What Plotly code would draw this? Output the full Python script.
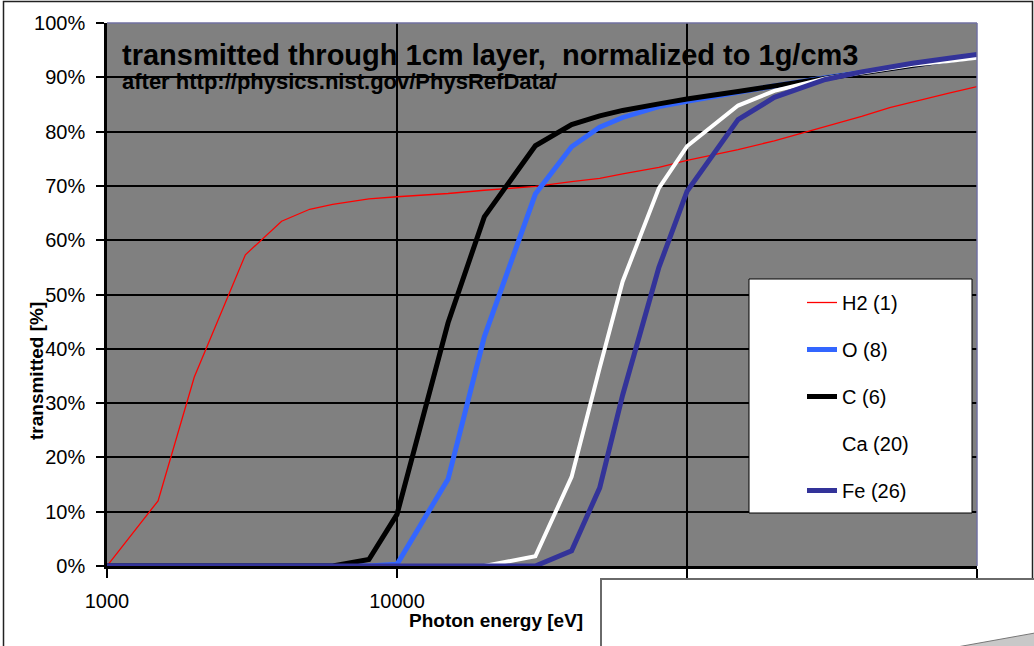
import plotly.graph_objects as go

# ---- data ----
energy_eV = [1000, 1500, 2000, 3000, 4000, 5000, 6000, 8000, 10000, 15000, 20000,
             30000, 40000, 50000, 60000, 80000, 100000, 150000, 200000, 300000,
             400000, 500000, 600000, 800000, 1000000]

h2_pct = [0.0, 12.0, 34.8, 57.3, 63.5, 65.7, 66.6, 67.6, 68.0, 68.6, 69.2,
          69.9, 70.8, 71.4, 72.2, 73.4, 74.7, 76.7, 78.3, 80.9,
          82.8, 84.4, 85.5, 87.1, 88.3]
o_pct = [0, 0, 0, 0, 0, 0, 0, 0, 0.3, 16.0, 42.2,
         68.5, 77.2, 80.8, 82.6, 84.6, 85.6, 87.3, 88.4, 89.9,
         90.9, 91.6, 92.2, 93.2, 93.8]
c_pct = [0, 0, 0, 0, 0, 0, 0, 1.2, 9.5, 44.8, 64.3,
         77.4, 81.3, 82.9, 83.9, 85.1, 86.0, 87.4, 88.4, 89.9,
         90.9, 91.7, 92.3, 93.2, 93.8]
ca_pct = [0, 0, 0, 0, 0, 0, 0, 0, 0, 0, 0,
          1.8, 16.4, 36.5, 52.4, 69.6, 77.3, 84.8, 87.5, 89.8,
          90.9, 91.7, 92.3, 93.0, 93.6]
fe_pct = [0, 0, 0, 0, 0, 0, 0, 0, 0, 0, 0,
          0, 2.8, 14.4, 31.5, 55.0, 69.0, 82.2, 86.3, 89.6,
          91.0, 91.9, 92.6, 93.5, 94.2]

series_names = ["H2 (1)", "O (8)", "C (6)", "Ca (20)", "Fe (26)"]
x_tick_vals = [1000, 10000, 100000, 1000000]
x_tick_text = ["1000", "10000", "100000", "1000000"]
y_tick_vals = [0, 10, 20, 30, 40, 50, 60, 70, 80, 90, 100]
y_tick_text = ["0%", "10%", "20%", "30%", "40%", "50%", "60%", "70%", "80%", "90%", "100%"]

title_text = "transmitted through 1cm layer,  normalized to 1g/cm3"
subtitle_text = "after http://physics.nist.gov/PhysRefData/"
x_title = "Photon energy [eV]"
y_title = "transmitted [%]"

FONT = "Liberation Sans, Arial, sans-serif"

# ---- styles ----
styles = [
    dict(color="#FF0000", width=1.3),
    dict(color="#3366FF", width=5),
    dict(color="#000000", width=5),
    dict(color="#FFFFFF", width=4),
    dict(color="#333399", width=5),
]
values = [h2_pct, o_pct, c_pct, ca_pct, fe_pct]

fig = go.Figure()
for i, (name, vals, st) in enumerate(zip(series_names, values, styles)):
    fig.add_trace(go.Scatter(
        x=energy_eV, y=vals, name=name, mode="lines",
        line=dict(color=st["color"], width=st["width"]),
        legendgroup=f"g{i}",
    ))

W, H = 1034, 646
L, R, T, B = 107, 977, 23, 566


def px(xp):
    return (xp - L) / (R - L)


def py(yp):
    return (B - yp) / (B - T)


fig.update_layout(
    width=W, height=H,
    margin=dict(l=L, r=W - R, t=T, b=H - B, pad=0),
    paper_bgcolor="white",
    plot_bgcolor="#808080",
    font=dict(family=FONT, size=20, color="black"),
    showlegend=True,
    legend=dict(
        x=px(802), y=py(283), xanchor="left", yanchor="top",
        bgcolor="rgba(0,0,0,0)", borderwidth=0,
        font=dict(family=FONT, size=20, color="black"),
        traceorder="grouped", tracegroupgap=18,
    ),
    xaxis=dict(
        type="log", range=[3, 6],
        tickvals=x_tick_vals, ticktext=x_tick_text,
        showgrid=True, gridcolor="black", gridwidth=1.5,
        ticks="outside", ticklen=9, tickwidth=1.5, tickcolor="black",
        showline=True, linecolor="black", linewidth=2.5,
        tickfont=dict(family=FONT, size=20, color="black"),
        ticklabelstandoff=6,
        layer="below traces", zeroline=False,
    ),
    yaxis=dict(
        range=[0, 100],
        tickvals=y_tick_vals, ticktext=y_tick_text,
        showgrid=True, gridcolor="black", gridwidth=1.5,
        ticks="outside", ticklen=8, tickwidth=1.5, tickcolor="black",
        showline=True, linecolor="black", linewidth=2.5,
        tickfont=dict(family=FONT, size=20, color="black"),
        ticklabelstandoff=7,
        layer="below traces", zeroline=False,
    ),
)

shapes = [
    # top & right border of plot area
    dict(type="line", xref="paper", yref="paper", x0=0, x1=1, y0=1, y1=1,
         line=dict(color="#7070A0", width=1.5), layer="above"),
    dict(type="line", xref="paper", yref="paper", x0=1, x1=1, y0=0, y1=1,
         line=dict(color="#7070A0", width=1.5), layer="above"),
    # outer frame of the whole picture
    dict(type="rect", xref="paper", yref="paper",
         x0=px(3.5), x1=px(1032.5), y0=py(700), y1=py(1.5),
         line=dict(color="#222222", width=1.5), fillcolor="rgba(0,0,0,0)", layer="above"),
    # legend box
    dict(type="rect", xref="paper", yref="paper",
         x0=px(749), x1=px(972), y0=py(513), y1=py(279),
         line=dict(color="black", width=1), fillcolor="white", layer="above"),
    # overlapping white box at the bottom right
    dict(type="rect", xref="paper", yref="paper",
         x0=px(601), x1=px(1100), y0=py(720), y1=py(579),
         line=dict(color="#6a6a6a", width=2), fillcolor="white", layer="above"),
    # grey wedge in the overlapping box
    dict(type="path", xref="paper", yref="paper",
         path=f"M {px(957)} {py(647)} L {px(1035)} {py(633)} L {px(1035)} {py(647)} Z",
         line=dict(color="#777777", width=1), fillcolor="#C8C8C8", layer="above"),
]
fig.update_layout(shapes=shapes)

annotations = [
    dict(text=title_text, xref="paper", yref="paper", x=px(120), y=py(55),
         xanchor="left", yanchor="middle", showarrow=False,
         font=dict(family=FONT, size=29, color="black", weight="bold")),
    dict(text=subtitle_text, xref="paper", yref="paper", x=px(120), y=py(82),
         xanchor="left", yanchor="middle", showarrow=False,
         font=dict(family=FONT, size=22, color="black", weight="bold")),
    dict(text=y_title, xref="paper", yref="paper", x=px(37), y=py(371),
         xanchor="center", yanchor="middle", showarrow=False, textangle=-90,
         font=dict(family=FONT, size=19, color="black", weight="bold")),
    dict(text=x_title, xref="paper", yref="paper", x=px(496), y=py(620),
         xanchor="center", yanchor="middle", showarrow=False,
         font=dict(family=FONT, size=19, color="black", weight="bold")),
]
fig.update_layout(annotations=annotations)

fig.write_html("out.html", config={"displayModeBar": False},
               post_script="document.body.style.margin='0px';")
